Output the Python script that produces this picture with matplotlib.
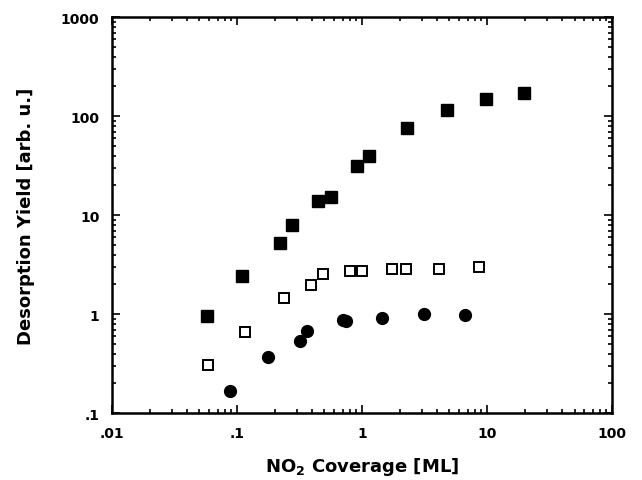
import numpy as np
import matplotlib.pyplot as plt
from matplotlib.ticker import FixedLocator, FixedFormatter, LogLocator, NullFormatter

plt.rcParams['font.family'] = ['DejaVu Sans']
plt.rcParams['font.weight'] = 'bold'
plt.rcParams['mathtext.default'] = 'bf'

# Filled squares
x_fsq = [0.057, 0.110, 0.22, 0.275, 0.444, 0.559, 0.909, 1.13, 2.29, 4.74, 9.8, 19.8]
y_fsq = [0.95, 2.43, 5.2, 7.9, 13.8, 15.4, 31.1, 39.3, 76, 116, 149, 172]

# Open squares
x_osq = [0.059, 0.116, 0.239, 0.393, 0.488, 0.806, 0.99, 1.73, 2.25, 4.1, 8.56]
y_osq = [0.31, 0.66, 1.47, 1.99, 2.55, 2.75, 2.75, 2.84, 2.86, 2.88, 2.97]

# Filled circles
x_circ = [0.088, 0.178, 0.32, 0.362, 0.71, 0.74, 1.44, 3.1, 6.7]
y_circ = [0.166, 0.372, 0.535, 0.67, 0.88, 0.85, 0.918, 1.0, 0.97]

x_ticks = [0.01, 0.1, 1, 10, 100]
x_labels = ['.01', '.1', '1', '10', '100']
y_ticks = [0.1, 1, 10, 100, 1000]
y_labels = ['.1', '1', '10', '100', '1000']

fig = plt.figure(figsize=(6.42, 4.81), dpi=100)
ax = fig.add_axes([0.1745, 0.139, 0.779, 0.823])

ax.plot(x_fsq, y_fsq, 's', color='black', markersize=8.5, linestyle='none')
ax.plot(x_osq, y_osq, 's', markerfacecolor='white', markeredgecolor='black',
        markeredgewidth=1.4, markersize=7.2, linestyle='none')
ax.plot(x_circ, y_circ, 'o', color='black', markersize=8.5, linestyle='none')

ax.set_xscale('log')
ax.set_yscale('log')
ax.set_xlim(0.01, 100)
ax.set_ylim(0.1, 1000)

ax.xaxis.set_major_locator(FixedLocator(x_ticks))
ax.xaxis.set_major_formatter(FixedFormatter(x_labels))
ax.yaxis.set_major_locator(FixedLocator(y_ticks))
ax.yaxis.set_major_formatter(FixedFormatter(y_labels))
ax.xaxis.set_minor_locator(LogLocator(base=10, subs=np.arange(2, 10)))
ax.yaxis.set_minor_locator(LogLocator(base=10, subs=np.arange(2, 10)))
ax.xaxis.set_minor_formatter(NullFormatter())
ax.yaxis.set_minor_formatter(NullFormatter())

ax.tick_params(which='both', direction='in', top=True, right=True, width=1.2)
ax.tick_params(which='major', length=6, labelsize=10, pad=9)
ax.tick_params(which='minor', length=3)
for s in ax.spines.values():
    s.set_linewidth(1.8)

ax.set_xlabel('NO$_\\mathbf{2}$ Coverage [ML]', fontsize=13, fontweight='bold', labelpad=11)
ax.set_ylabel('Desorption Yield [arb. u.]', fontsize=13, fontweight='bold', labelpad=19)

fig.savefig('out.png', dpi=100)
